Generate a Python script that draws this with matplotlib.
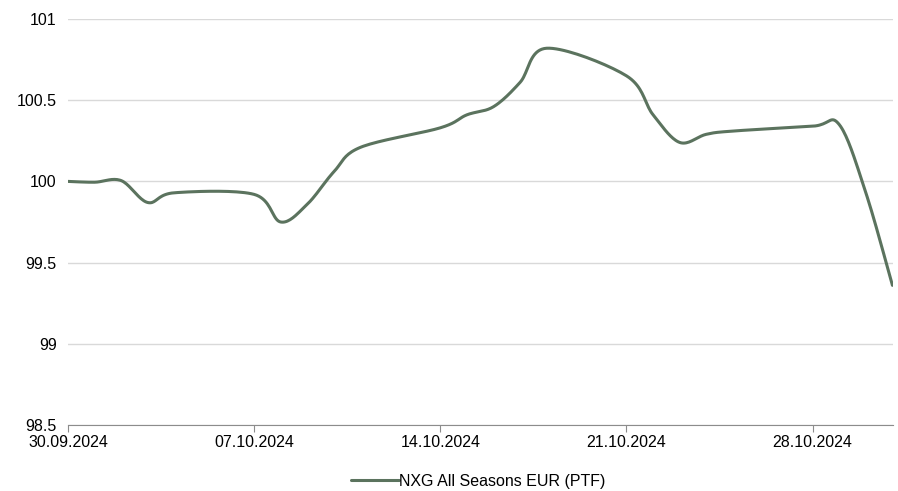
import numpy as np
import pandas as pd
import matplotlib
matplotlib.use("Agg")
import matplotlib.pyplot as plt
import matplotlib.dates as mdates

# business days, 30.09.2024 - 31.10.2024
dates = ["2024-09-30", "2024-10-01", "2024-10-02", "2024-10-03", "2024-10-04",
         "2024-10-07", "2024-10-08", "2024-10-09", "2024-10-10", "2024-10-11",
         "2024-10-14", "2024-10-15", "2024-10-16", "2024-10-17", "2024-10-18",
         "2024-10-21", "2024-10-22", "2024-10-23", "2024-10-24", "2024-10-25",
         "2024-10-28", "2024-10-29", "2024-10-30", "2024-10-31"]
values = [100.00, 99.995, 100.005, 99.87, 99.93,
          99.92, 99.75, 99.86, 100.06, 100.21,
          100.33, 100.41, 100.46, 100.61, 100.82,
          100.65, 100.41, 100.24, 100.29, 100.31,
          100.34, 100.35, 99.93, 99.36]
tick_dates = ["2024-09-30", "2024-10-07", "2024-10-14", "2024-10-21", "2024-10-28"]
series_name = "NXG All Seasons EUR (PTF)"

line_color = "#5b735e"
plt.rcParams['font.family'] = ['Liberation Sans', 'DejaVu Sans']


def smooth(x, y, n=20):
    # catmull-rom, the way a spreadsheet draws a "smoothed line"
    x = np.asarray(x, float)
    y = np.asarray(y, float)
    px = np.concatenate([[x[0]], x, [x[-1]]])
    py = np.concatenate([[y[0]], y, [y[-1]]])
    xs, ys = [], []
    t = np.linspace(0, 1, n, endpoint=False)
    for i in range(1, len(px) - 2):
        for p, out in ((px, xs), (py, ys)):
            p0, p1, p2, p3 = p[i - 1], p[i], p[i + 1], p[i + 2]
            out.extend(0.5 * (2 * p1 + (-p0 + p2) * t
                              + (2 * p0 - 5 * p1 + 4 * p2 - p3) * t ** 2
                              + (-p0 + 3 * p1 - 3 * p2 + p3) * t ** 3))
    xs.append(x[-1])
    ys.append(y[-1])
    return np.array(xs), np.array(ys)


xd = mdates.date2num(pd.to_datetime(dates))
sx, sy = smooth(xd, values)

fig = plt.figure(figsize=(8.98, 4.91), dpi=100)
ax = fig.add_axes([0.0757, 0.1344, 0.9187, 0.8269])

ax.plot(sx, sy, color=line_color, lw=2.2, label=series_name, solid_capstyle="round")

ax.set_ylim(98.5, 101)
ax.set_yticks(np.arange(98.5, 101.01, 0.5))
ax.set_yticklabels(["98.5", "99", "99.5", "100", "100.5", "101"])
ax.set_xlim(mdates.date2num(pd.Timestamp("2024-09-30")),
            mdates.date2num(pd.Timestamp("2024-10-31")) + 0.02)
ticks = mdates.date2num(pd.to_datetime(tick_dates))
ax.set_xticks(ticks)
ax.set_xticklabels([pd.Timestamp(d).strftime("%d.%m.%Y") for d in tick_dates])

ax.grid(axis="y", color="#d9d9d9", lw=1)
ax.set_axisbelow(True)
for s in ["top", "right", "left"]:
    ax.spines[s].set_visible(False)
ax.spines["bottom"].set_color("#8c8c8c")
ax.spines["bottom"].set_zorder(0.5)
ax.tick_params(axis="y", length=0, pad=8, labelsize=11.5, colors="#000000")
ax.tick_params(axis="x", length=5, color="#8c8c8c", pad=2, labelsize=11.5)

ax.legend(loc="center", bbox_to_anchor=(0.4976, -0.138), frameon=False,
          fontsize=11.5, handlelength=3.0, handletextpad=0.0,
          borderpad=0.0)

fig.savefig("out.png", dpi=100)
